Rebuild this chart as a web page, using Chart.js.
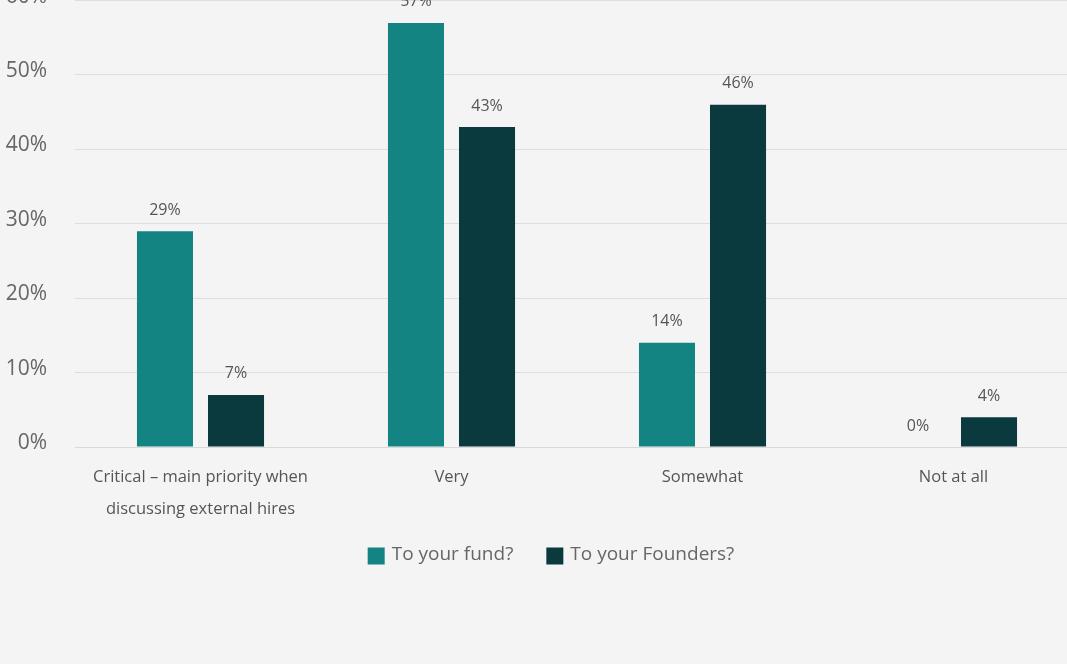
<!DOCTYPE html>
<html lang="en">
<head>
    <meta charset="UTF-8">
    <title>Importance of diversity</title>
    <script src="https://cdn.jsdelivr.net/npm/chart.js"></script>
    <style>
        html, body {
            margin: 0;
            padding: 0;
            background: #f4f4f4;
            overflow: hidden;
        }
        #wrap {
            position: absolute;
            left: 0;
            top: -40px;
            width: 1102px;
            height: 704px;
        }
    </style>
</head>
<body>
    <div id="wrap"><canvas id="chart"></canvas></div>

    <script>
        // Answers on the x axis
        const categories = [
            ['Critical \u2013 main priority when', 'discussing external hires'],
            'Very',
            'Somewhat',
            'Not at all'
        ];
        const fundValues = [29, 57, 14, 0];
        const founderValues = [7, 43, 46, 4];
        const yTicks = [0, 10, 20, 30, 40, 50, 60];

        const fontFamily = '"Open Sans", "Noto Sans", sans-serif';

        // Writes the value above each bar
        const valueLabels = {
            id: 'valueLabels',
            afterDatasetsDraw(chart) {
                const ctx = chart.ctx;
                ctx.save();
                ctx.font = '16px ' + fontFamily;
                ctx.fillStyle = '#555';
                ctx.textAlign = 'center';
                ctx.textBaseline = 'bottom';
                chart.data.datasets.forEach((ds, i) => {
                    chart.getDatasetMeta(i).data.forEach((bar, j) => {
                        ctx.fillText(ds.data[j] + '%', bar.x, bar.y - 13);
                    });
                });
                ctx.restore();
            }
        };

        // Legend row under the axis, wider gap between items than the built-in one
        const legendRow = {
            id: 'legendRow',
            afterDraw(chart) {
                const ctx = chart.ctx;
                const box = 17, textGap = 7, itemGap = 33;
                const y = chart.chartArea.bottom + 108;
                ctx.save();
                ctx.font = '19px ' + fontFamily;
                ctx.textBaseline = 'middle';
                const items = chart.data.datasets.map(ds => ({
                    text: ds.label,
                    color: ds.backgroundColor,
                    w: box + textGap + ctx.measureText(ds.label).width
                }));
                const total = items.reduce((s, it) => s + it.w, 0) + itemGap * (items.length - 1);
                let x = chart.width / 2 - total / 2;
                items.forEach(it => {
                    ctx.fillStyle = it.color;
                    ctx.fillRect(x, y - box / 2 + 1, box, box);
                    ctx.fillStyle = '#666';
                    ctx.fillText(it.text, x + box + textGap, y);
                    x += it.w + itemGap;
                });
                ctx.restore();
            }
        };

        const barStyle = {
            categoryPercentage: 0.566,
            barPercentage: 0.789,
            inflateAmount: 0
        };

        new Chart(document.getElementById('chart'), {
            type: 'bar',
            data: {
                labels: categories,
                datasets: [{
                    label: 'To your fund?',
                    data: fundValues,
                    backgroundColor: '#138481',
                    ...barStyle
                }, {
                    label: 'To your Founders?',
                    data: founderValues,
                    backgroundColor: '#0a3a3e',
                    ...barStyle
                }]
            },
            options: {
                responsive: true,
                maintainAspectRatio: false,
                animation: false,
                layout: {
                    padding: { top: 38, right: 23, bottom: 137, left: 0 }
                },
                plugins: {
                    tooltip: { enabled: false },
                    legend: { display: false }
                },
                scales: {
                    x: {
                        grid: { display: false, drawTicks: false },
                        border: { color: '#d9d9d9' },
                        ticks: {
                            color: '#555',
                            padding: 15,
                            maxRotation: 0,
                            autoSkip: false,
                            font: { family: fontFamily, size: 16.5, lineHeight: 1.9 }
                        },
                        afterFit(scale) { scale.height = 80; }
                    },
                    y: {
                        min: 0,
                        max: 60,
                        afterBuildTicks(scale) {
                            scale.ticks = yTicks.map(v => ({ value: v }));
                        },
                        grid: { color: '#dedede', drawTicks: false },
                        border: { display: false },
                        ticks: {
                            color: '#666',
                            padding: 28,
                            labelOffset: -4,
                            font: { family: fontFamily, size: 21 },
                            callback: v => v + '%'
                        },
                        afterFit(scale) { scale.width = 75; }
                    }
                }
            },
            plugins: [valueLabels, legendRow]
        });
    </script>
</body>
</html>
